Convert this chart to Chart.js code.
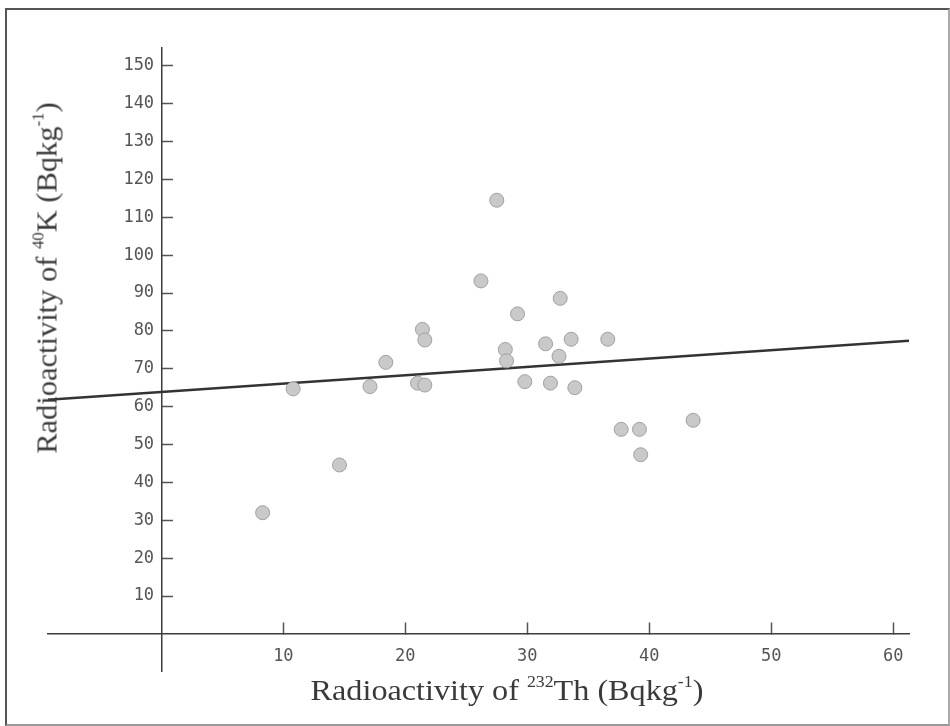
<!DOCTYPE html>
<html>
<head>
<meta charset="utf-8">
<script src="https://cdn.jsdelivr.net/npm/chart.js@4.4.0/dist/chart.umd.min.js"></script>
<style>
  body { margin: 0; background: #fff; }
  #wrap { position: relative; width: 950px; height: 726px; }
  #frame { position: absolute; left: 5px; top: 8px; width: 941px; height: 714px; border: 2px solid #555; border-right-color: #aaa; border-bottom-color: #999; }
  canvas { position: absolute; left: 0; top: 0; }
  .ttl { position: absolute; font-family: "Liberation Serif", "Times New Roman", serif; font-size: 29px; color: #3a3a3a; white-space: nowrap; }
  .ttl sup { font-size: 16px; vertical-align: 13px; line-height: 0; }
  #ytitle { left: 47px; top: 278px; transform: translate(-50%, -50%) rotate(-90deg) scaleX(1.05); }
  #xtitle { left: 507px; top: 690px; transform: translate(-50%, -50%) scaleX(1.11); }
</style>
</head>
<body>
<div id="wrap">
  <div id="frame"></div>
  <canvas id="scatterChart" width="950" height="726"></canvas>
  <div class="ttl" id="ytitle">Radioactivity of <sup>40</sup>K (Bqkg<sup>-1</sup>)</div>
  <div class="ttl" id="xtitle">Radioactivity of <sup>232</sup>Th (Bqkg<sup>-1</sup>)</div>
</div>
<script>
// 232Th activity (x) vs 40K activity (y)
const thValues = [8.3, 10.8, 14.6, 17.1, 18.4, 21.4, 21.6, 21.0, 21.6, 26.2, 27.5, 28.2, 28.3, 29.2, 29.8, 31.5, 31.9, 32.7, 32.6, 33.6, 33.9, 36.6, 37.7, 39.2, 39.3, 43.6];
const kValues  = [32.0, 64.7, 44.6, 65.3, 71.7, 80.4, 77.6, 66.2, 65.7, 93.2, 114.5, 75.1, 72.1, 84.5, 66.6, 76.6, 66.2, 88.6, 73.3, 77.8, 65.0, 77.8, 54.0, 54.0, 47.3, 56.4];

// fitted line, end points as drawn
const fitX = [-9.3, 61.3];
const fitY = [61.8, 77.4];

const xRange = [-9.3, 61.3];
const yRange = [-9.8, 154.7];

const points = thValues.map((v, i) => ({x: v, y: kValues[i]}));
const fitLine = fitX.map((v, i) => ({x: v, y: fitY[i]}));

const tickFont = { family: '"DejaVu Sans Mono", monospace', size: 17 };
const onlyPositive = function(s) { s.ticks = s.ticks.filter(t => t.value > 0); };

const data = {
  datasets: [{
    type: 'scatter',
    label: 'samples',
    data: points,
    pointRadius: 7,
    pointHoverRadius: 7,
    backgroundColor: '#c9c9c9',
    borderColor: '#a0a0a0',
    borderWidth: 1
  }, {
    type: 'line',
    label: 'fit',
    data: fitLine,
    borderColor: '#333',
    borderWidth: 2.5,
    pointRadius: 0,
    fill: false
  }]
}

const config = {
  type: 'scatter',
  data,
  options: {
    responsive: false,
    animation: false,
    layout: { padding: { left: 48, right: 41, top: 48, bottom: 55 } },
    plugins: { legend: { display: false }, tooltip: { enabled: false } },
    scales: {
      x: {
        type: 'linear',
        position: { y: 0 },
        min: xRange[0],
        max: xRange[1],
        afterFit: function(s) { s.height = 0; },
        afterBuildTicks: onlyPositive,
        border: { display: true, color: '#3c3c3c', width: 1.5 },
        grid: { drawOnChartArea: false, drawTicks: true, tickLength: -12, color: '#555', tickWidth: 1.5 },
        ticks: { stepSize: 10, includeBounds: false, padding: 24, color: '#555', font: tickFont, maxRotation: 0 }
      },
      y: {
        type: 'linear',
        position: { x: 0 },
        min: yRange[0],
        max: yRange[1],
        afterFit: function(s) { s.width = 0; },
        afterBuildTicks: onlyPositive,
        border: { display: true, color: '#3c3c3c', width: 1.5 },
        grid: { drawOnChartArea: false, drawTicks: true, tickLength: -12, color: '#555', tickWidth: 1.5 },
        ticks: { stepSize: 10, includeBounds: false, display: false }
      },
      // same range, only carries the tick labels, a little left of the axis line
      yLabels: {
        type: 'linear',
        axis: 'y',
        position: { x: -0.6 },
        min: yRange[0],
        max: yRange[1],
        afterFit: function(s) { s.width = 0; },
        afterBuildTicks: onlyPositive,
        border: { display: false },
        grid: { display: false, drawTicks: false },
        ticks: { stepSize: 10, includeBounds: false, color: '#555', font: tickFont }
      }
    }
  }
}

new Chart("scatterChart", config);
</script>
</body>
</html>
